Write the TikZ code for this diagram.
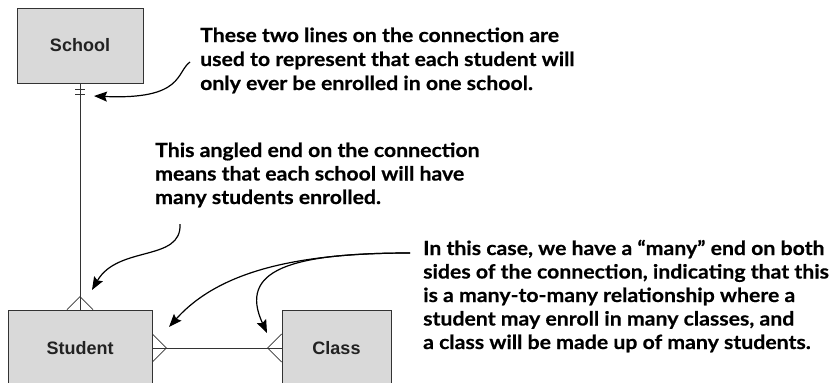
\documentclass[tikz,border=0pt]{standalone}
\usepackage{fontspec}
\setmainfont{Lato}
\newfontfamily\notefont{Lato}[FakeStretch=1.09, BoldFeatures={FakeBold=0.5}]
\newfontfamily\labelfont{Liberation Sans}
\usetikzlibrary{arrows.meta}
\definecolor{boxfill}{HTML}{D9D9D9}
\definecolor{boxline}{HTML}{333333}
\definecolor{labelcol}{HTML}{222222}
\tikzset{
  ent/.style={draw=boxline, fill=boxfill, line width=0.8pt, inner sep=0pt,
    font=\labelfont\bfseries\fontsize{18}{20}\selectfont, text=labelcol},
  conn/.style={draw=boxline, line width=0.8pt},
  note/.style={anchor=base west, inner sep=0pt, font=\notefont\bfseries\fontsize{19.5}{24}\selectfont},
  callout/.style={line width=1.2pt, -{Stealth[length=13pt,width=10pt,inset=2pt]}}
}
\begin{document}
\begin{tikzpicture}[x=1pt,y=-1pt]
\useasboundingbox (0,0) rectangle (839,383);
\begin{scope}
\clip (0,0) rectangle (839,383);
% entities
\node[ent, minimum width=126pt, minimum height=75pt] (school) at (80,45.5) {School};
\node[ent, minimum width=144pt, minimum height=76pt] (student) at (80,348) {Student};
\node[ent, minimum width=109pt, minimum height=76pt] (class) at (336.5,348) {Class};
% connectors
\draw[conn] (school.south) -- (student.north);
\draw[conn] (student.east) -- (class.west);
% one marks
\draw[conn] (school.south) ++(-5,6) -- ++(10,0);
\draw[conn] (school.south) ++(-5,11) -- ++(10,0);
% many marks
\draw[conn] (student.north) ++(-13,0) -- ++(13,-13) -- ++(13,13);
\draw[conn] (student.east) ++(0,-14) -- ++(14,14) -- ++(-14,14);
\draw[conn] (class.west) ++(0,-14) -- ++(-14,14) -- ++(14,14);
% notes
\node[note] (n1a) at (200,42) {These two lines on the connection are};
\node[note] (n1b) at (200,66) {used to represent that each student will};
\node[note] (n1c) at (200,90) {only ever be enrolled in one school.};
\node[note] (n2a) at (155,157) {This angled end on the connection};
\node[note] (n2b) at (155,180.5) {means that each school will have};
\node[note] (n2c) at (155,204) {many students enrolled.};
\node[note] (n3a) at (423,255) {In this case, we have a “many” end on both};
\node[note] (n3b) at (423,278.5) {sides of the connection, indicating that this};
\node[note] (n3c) at (423,302) {is a many-to-many relationship where a};
\node[note] (n3d) at (423,325.5) {student may enroll in many classes, and};
\node[note] (n3e) at (423,349) {a class will be made up of many students.};
% callout arrows
\coordinate (c1s) at (190,62);
\coordinate (c1e) at (94,96);
\coordinate (c2s) at (180,224);
\coordinate (c2e) at (92,290);
\coordinate (c3s) at (410,253);
\coordinate (c3e) at (169,327);
\coordinate (c4e) at (267,333);
\draw[callout] (c1s) .. controls (176,72) and (184,100) .. (c1e);
\draw[callout] (c2s) .. controls (182,262) and (118,245) .. (c2e);
\draw[callout] (c3s) .. controls (300,253) and (220,270) .. (c3e);
\draw[callout] (c3s) .. controls (290,253) and (238,270) .. (c4e);
\end{scope}
\end{tikzpicture}
\end{document}
